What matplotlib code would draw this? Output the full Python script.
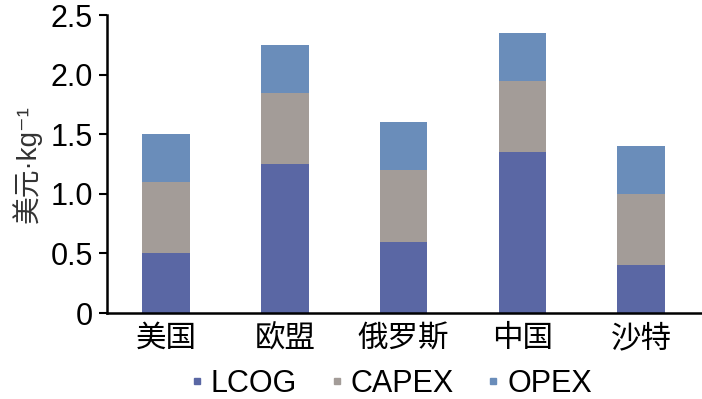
import matplotlib
matplotlib.use("Agg")
import matplotlib.pyplot as plt
from matplotlib.lines import Line2D
import numpy as np

plt.rcParams['font.family'] = ['Liberation Sans', 'Noto Sans CJK SC', 'DejaVu Sans']

countries = ["美国", "欧盟", "俄罗斯", "中国", "沙特"]
lcog = [0.5, 1.25, 0.6, 1.35, 0.4]
capex = [0.6, 0.6, 0.6, 0.6, 0.6]
opex = [0.4, 0.4, 0.4, 0.4, 0.4]
series_names = ["LCOG", "CAPEX", "OPEX"]
colors = ["#5a67a4", "#a39c98", "#6a8dba"]

fig = plt.figure(figsize=(7.02, 3.99), dpi=100)
ax = fig.add_axes([0.152, 0.2155, 0.846, 0.7465])

x = np.arange(len(countries))
w = 0.4
ax.bar(x, lcog, w, color=colors[0])
ax.bar(x, capex, w, bottom=lcog, color=colors[1])
ax.bar(x, opex, w, bottom=np.add(lcog, capex), color=colors[2])

ax.set_xlim(-0.5, 4.5)
ax.set_ylim(0, 2.5)
ax.set_yticks([0, 0.5, 1.0, 1.5, 2.0, 2.5])
ax.set_yticklabels(["0", "0.5", "1.0", "1.5", "2.0", "2.5"], fontsize=22)
ax.set_xticks(x)
ax.set_xticklabels(countries, fontsize=22)
ax.tick_params(axis='x', length=0, pad=8)
ax.tick_params(axis='y', length=6, width=1.5, pad=4)
for s in ["top", "right"]:
    ax.spines[s].set_visible(False)
ax.spines["left"].set_linewidth(1.8)
ax.spines["bottom"].set_linewidth(1.8)
ax.set_ylabel("美元·kg⁻¹", fontsize=20, color="#333333", labelpad=6)

handles = [Line2D([], [], marker='s', linestyle='none', markersize=5,
                  color=c) for c in colors]
fig.legend(handles, series_names, loc='center', bbox_to_anchor=(0.553, 0.038),
           ncol=3, frameon=False, fontsize=22, handletextpad=0.05,
           columnspacing=0.9, handlelength=0.8)

fig.savefig("out.png", dpi=100)
